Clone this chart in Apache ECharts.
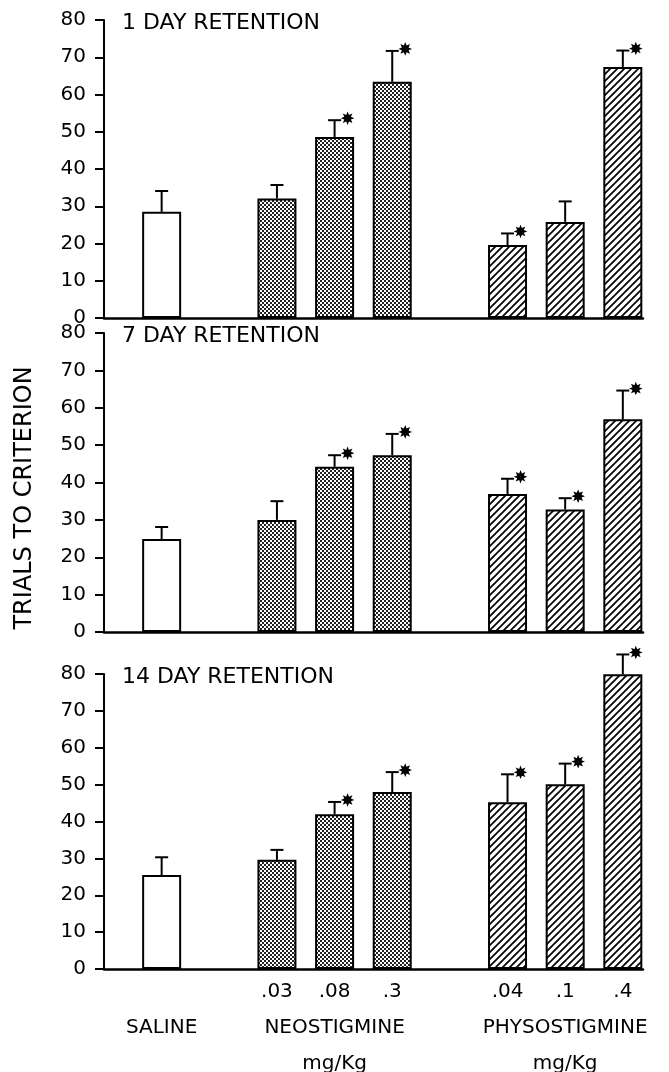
<!DOCTYPE html>
<html><head><meta charset="utf-8">
<script src="https://cdn.jsdelivr.net/npm/echarts@6/dist/echarts.min.js"></script>
<style>html,body{margin:0;padding:0;background:#fff}#c{width:669px;height:1072px}</style>
</head><body><div id="c"></div>
<script>
// ---- data ----
const slots = [0, 2, 3, 4, 6, 7, 8];               // category slot of each bar
const groups = ['saline', 'neo', 'neo', 'neo', 'phy', 'phy', 'phy'];
const doseLabels = ['', '.03', '.08', '.3', '.04', '.1', '.4'];
const groupNames = ['SALINE', 'NEOSTIGMINE', 'PHYSOSTIGMINE'];
const unitLabel = 'mg/Kg';
const panelTitles = ['1 DAY RETENTION', '7 DAY RETENTION', '14 DAY RETENTION'];
const yAxisTitle = 'TRIALS TO CRITERION';

const day1Mean = [28.5, 32.1, 48.6, 63.4, 19.6, 25.8, 67.4];
const day1Err  = [34.1, 35.7, 53.1, 71.7, 22.7, 31.3, 71.8];
const day1Sig  = [0, 0, 1, 1, 1, 0, 1];

const day7Mean = [24.9, 30.0, 44.2, 47.3, 36.9, 32.8, 56.9];
const day7Err  = [28.1, 35.0, 47.3, 53.0, 41.0, 35.8, 64.6];
const day7Sig  = [0, 0, 1, 1, 1, 1, 1];

const day14Mean = [25.5, 29.6, 42.0, 48.0, 45.2, 50.1, 79.9];
const day14Err  = [30.3, 32.3, 45.3, 53.4, 52.8, 55.7, 85.3];
const day14Sig  = [0, 0, 1, 1, 1, 1, 1];

const panels = [
  {mean: day1Mean, err: day1Err, sig: day1Sig},
  {mean: day7Mean, err: day7Err, sig: day7Sig},
  {mean: day14Mean, err: day14Err, sig: day14Sig}
];

// ---- patterns ----
function stipple() {
  const c = document.createElement('canvas'); c.width = 4; c.height = 4;
  const g = c.getContext('2d');
  g.fillStyle = '#fff'; g.fillRect(0, 0, 4, 4);
  g.fillStyle = '#222'; g.fillRect(0, 0, 2, 2); g.fillRect(2, 2, 2, 2);
  return c;
}
function hatch() {
  const s = 7;
  const c = document.createElement('canvas'); c.width = s; c.height = s;
  const g = c.getContext('2d');
  g.fillStyle = '#fff'; g.fillRect(0, 0, s, s);
  g.strokeStyle = '#000'; g.lineWidth = 1.7;
  g.beginPath();
  g.moveTo(0, s); g.lineTo(s, 0);
  g.moveTo(-1, 1); g.lineTo(1, -1);
  g.moveTo(s - 1, s + 1); g.lineTo(s + 1, s - 1);
  g.stroke();
  return c;
}
const fills = {
  saline: '#fff',
  neo: {image: stipple(), repeat: 'repeat'},
  phy: {image: hatch(), repeat: 'repeat'}
};

// ---- layout ----
const FONT = 'DejaVu Sans';
const gridDefs = [
  {top: 20, height: 298},
  {top: 333, height: 299},
  {top: 674, height: 295}
];

function xLabel(v) {
  const k = slots.indexOf(v);
  if (k < 0) return '';
  if (k === 0) return ' \n' + groupNames[0];
  if (k === 2) return doseLabels[k] + '\n' + groupNames[1] + '\n' + unitLabel;
  if (k === 5) return doseLabels[k] + '\n' + groupNames[2] + '\n' + unitLabel;
  return doseLabels[k];
}

const grid = [], xAxis = [], yAxis = [], series = [], title = [];
gridDefs.forEach((gd, i) => {
  grid.push({left: 104, right: 26, top: gd.top, height: gd.height,
             containLabel: false, outerBoundsMode: 'none'});
  xAxis.push({
    type: 'value', gridIndex: i, min: -1, max: 8.35, interval: 1,
    axisLine: {show: true, onZero: false, lineStyle: {color: '#000', width: 2.5}},
    axisTick: {show: false}, splitLine: {show: false},
    axisLabel: {
      show: i === 2, formatter: xLabel, color: '#000', fontFamily: FONT,
      fontSize: 20, lineHeight: 36, margin: 5,
      showMinLabel: true, showMaxLabel: true
    }
  });
  yAxis.push({
    type: 'value', gridIndex: i, min: 0, max: 80, interval: 10,
    axisLine: {show: true, onZero: false, lineStyle: {color: '#000', width: 2}},
    axisTick: {show: true, length: 9, lineStyle: {color: '#000', width: 2}},
    splitLine: {show: false},
    axisLabel: {color: '#000', fontFamily: FONT, fontSize: 20, margin: 18}
  });
  title.push({
    text: panelTitles[i], left: 122, top: gd.top - 8, padding: 0,
    textStyle: {fontFamily: FONT, fontSize: 22, fontWeight: 'normal', color: '#000'}
  });
  const p = panels[i];
  ['saline', 'neo', 'phy'].forEach(gname => {
    const data = [];
    slots.forEach((s, k) => { if (groups[k] === gname) data.push([s, p.mean[k]]); });
    series.push({
      type: 'bar', xAxisIndex: i, yAxisIndex: i, data: data,
      barWidth: 39, barGap: '-100%',
      itemStyle: {color: fills[gname], borderColor: '#000', borderWidth: 2},
      animation: false, silent: true
    });
  });
  series.push({
    type: 'custom', xAxisIndex: i, yAxisIndex: i, z: 5,
    data: slots.map((s, k) => [s, p.mean[k], p.err[k], p.sig[k]]),
    encode: {x: 0, y: 1},
    clip: false, animation: false, silent: true,
    renderItem: function (params, api) {
      const x = api.value(0), m = api.value(1), e = api.value(2), sg = api.value(3);
      const p0 = api.coord([x, m]), p1 = api.coord([x, e]);
      const st = {stroke: '#000', lineWidth: 2};
      const children = [
        {type: 'line', shape: {x1: p0[0], y1: p0[1], x2: p1[0], y2: p1[1]}, style: st},
        {type: 'line', shape: {x1: p1[0] - 6.5, y1: p1[1], x2: p1[0] + 6.5, y2: p1[1]}, style: st}
      ];
      if (sg) {
        const cx = p1[0] + 13, cy = p1[1] - 2, pts = [];
        for (let j = 0; j < 16; j++) {
          const a = j * Math.PI / 8 - Math.PI / 2;
          const r = j % 2 ? 3.6 : 6.8;
          pts.push([cx + r * Math.cos(a), cy + r * Math.sin(a)]);
        }
        children.push({type: 'polygon', shape: {points: pts}, style: {fill: '#000'}});
      }
      return {type: 'group', children: children};
    }
  });
});

const chart = echarts.init(document.getElementById('c'), null, {renderer: 'canvas'});
chart.setOption({
  backgroundColor: '#fff',
  animation: false,
  title: title,
  grid: grid, xAxis: xAxis, yAxis: yAxis, series: series,
  graphic: [{
    type: 'text', x: 25, y: 498, rotation: Math.PI / 2,
    style: {text: yAxisTitle, align: 'center', verticalAlign: 'middle',
            font: '24px "DejaVu Sans"', fill: '#000'}
  }]
});
</script>
</body></html>
